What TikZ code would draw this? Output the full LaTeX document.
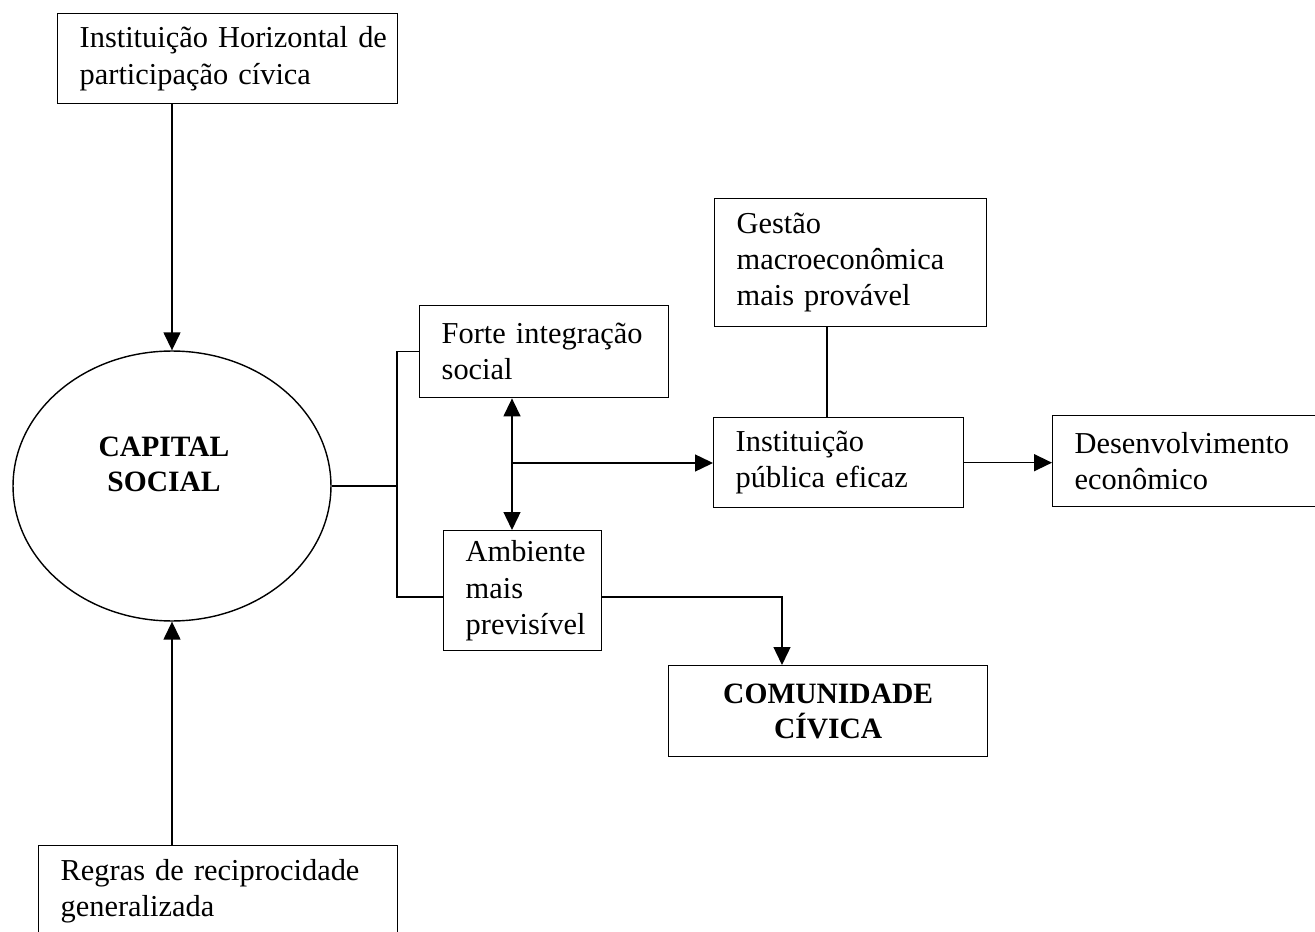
\documentclass[tikz,border=0pt]{standalone}
\usepackage{fontspec}
\setmainfont{Liberation Serif}
\usetikzlibrary{shapes.geometric,arrows.meta}

\begin{document}
\begin{tikzpicture}[x=0.02cm,y=-0.02cm,
        ln/.style={line width=0.8pt},
        blk/.style={draw,ln,anchor=north west,align=left,inner xsep=0.44cm,inner ysep=0pt,
            font=\fontsize{17.3}{20.5}\selectfont},
        bold/.style={align=center,font=\fontsize{16.8}{20}\selectfont\bfseries},
        arr/.style={ln,-{Triangle[length=0.36cm,width=0.34cm]}},
        arrboth/.style={ln,{Triangle[length=0.36cm,width=0.34cm]}-{Triangle[length=0.36cm,width=0.34cm]}}]
        \useasboundingbox (0,0) rectangle (1315,932);
        \clip (0,0) rectangle (1315,932);
    % capital social
        \node[draw,ln,ellipse,minimum width=6.36cm,minimum height=5.4cm,inner sep=0pt] (capital) at (172,486) {};
        \node[bold] (capitaltxt) at (164,464) {CAPITAL\\SOCIAL};
    % boxes
        \node[blk,text width=5.92cm,minimum height=1.8cm] (inst) at (57,13) {\mbox{Instituição Horizontal de}\\participação cívica};
        \node[blk,text width=6.30cm,minimum height=1.84cm] (regras) at (38,845) {Regras de reciprocidade\\generalizada};
        \node[blk,text width=4.10cm,minimum height=1.84cm] (forte) at (419,305) {\mbox{Forte integração}\\social};
        \node[blk,text width=2.28cm,minimum height=2.4cm] (amb) at (443,530) {Ambiente\\mais\\previsível};
        \node[blk,text width=4.56cm,minimum height=2.56cm] (gestao) at (714,198) {Gestão\\macroeconômica\\mais provável};
        \node[blk,text width=4.12cm,minimum height=1.8cm] (ipe) at (713,417) {Instituição\\pública eficaz};
        \node[blk,text width=4.68cm,minimum height=1.82cm] (desenv) at (1052,415) {Desenvolvimento\\econômico};
        \node[blk,bold,text width=5.5cm,minimum height=1.82cm] (comun) at (668,665) {COMUNIDADE\\CÍVICA};
    % junctions
        \coordinate (jn) at (397,486);
        \coordinate (jb) at (397,597);
        \coordinate (mid) at (512,463);
        \coordinate (gc) at (827,0);
        \coordinate (cb) at (782,597);
    % connectors
        \draw[arr] (capital.north |- inst.south) -- (capital.north);
        \draw[arr] (capital.south |- regras.north) -- (capital.south);
        \draw[ln] (capital.east) -- (jn);
        \draw[ln] (forte.west) -| (jb) -- (jb -| amb.west);
        \draw[arrboth] (mid |- forte.south) -- (mid |- amb.north);
        \draw[arr] (mid) -- (mid -| ipe.west);
        \draw[ln] (gc |- gestao.south) -- (gc |- ipe.north);
        \draw[arr] (ipe.east) -- (ipe.east -| desenv.west);
        \draw[arr] (jb -| amb.east) -- (cb) -- (cb |- comun.north);
\end{tikzpicture}
\end{document}
